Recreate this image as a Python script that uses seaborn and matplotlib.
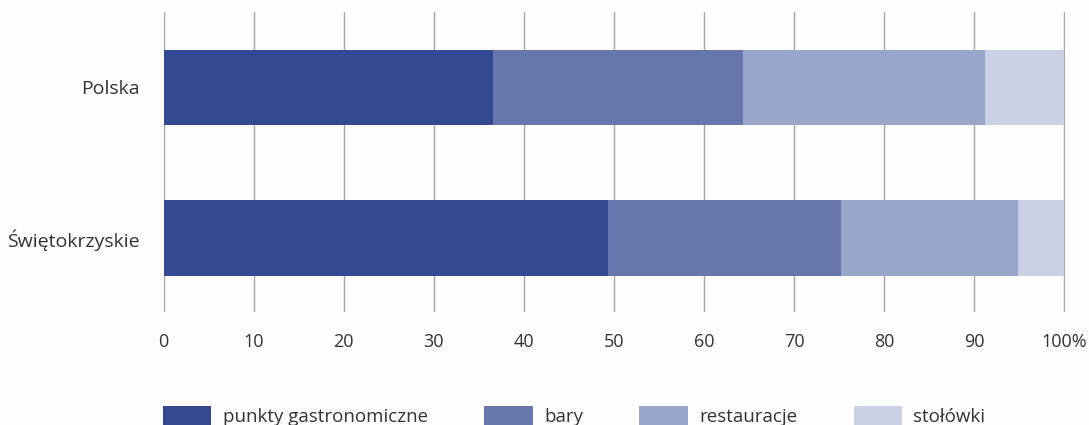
import matplotlib
matplotlib.use("Agg")
import matplotlib.pyplot as plt
import seaborn as sns
import pandas as pd
import numpy as np
from matplotlib.patches import Patch

regions = ["Polska", "Świętokrzyskie"]
series_names = ["punkty gastronomiczne", "bary", "restauracje", "stołówki"]
punkty = [36.6, 49.4]
bary = [27.7, 25.8]
restauracje = [26.9, 19.7]
stolowki = [8.8, 5.1]
x_ticks = [0, 10, 20, 30, 40, 50, 60, 70, 80, 90, 100]
x_tick_labels = ["0", "10", "20", "30", "40", "50", "60", "70", "80", "90", "100%"]
colors = ["#334a93", "#6777ad", "#9aa6c9", "#cbd1e4"]

sns.set_theme(style="white")
plt.rcParams["font.family"] = ["Open Sans", "DejaVu Sans"]

values = [punkty, bary, restauracje, stolowki]
cum = np.cumsum(np.array(values), axis=0)

fig = plt.figure(figsize=(10.89, 4.25), dpi=100)
fig.patch.set_facecolor("#fdfdfd")
ax = fig.add_axes([163.5 / 1089, 1 - 312 / 425, (1064.6 - 163.5) / 1089, 300 / 425])
ax.set_facecolor("#fdfdfd")

for i in range(len(series_names) - 1, -1, -1):
    df = pd.DataFrame({"region": regions, "value": cum[i]})
    sns.barplot(data=df, x="value", y="region", orient="h", color=colors[i],
                width=0.5, ax=ax, saturation=1, edgecolor="none", linewidth=0)

ax.set_xlim(0, 100.05)
ax.set_ylim(1.49, -0.5)
ax.set_xticks(x_ticks)
ax.set_xticklabels(x_tick_labels, fontsize=13, color="#333333")
ax.tick_params(axis="x", length=0, pad=15)
ax.tick_params(axis="y", length=0, pad=17, labelsize=14, labelcolor="#333333")
ax.set_xlabel("")
ax.set_ylabel("")
for s in ax.spines.values():
    s.set_visible(False)
ax.xaxis.grid(True, color="#a6a6a6", linewidth=1)
ax.set_axisbelow(True)

handles = [Patch(facecolor=c, edgecolor="none") for c in colors]
fig.legend(handles, series_names, loc="upper left", ncol=4,
           bbox_to_anchor=(155 / 1089, 1 - 398.5 / 425), frameon=False,
           fontsize=13.5, handlelength=2.6, handleheight=1.15, handletextpad=0.6,
           columnspacing=3.0, labelcolor="#333333", borderaxespad=0)

fig.savefig("out.png", dpi=100, facecolor=fig.get_facecolor())
